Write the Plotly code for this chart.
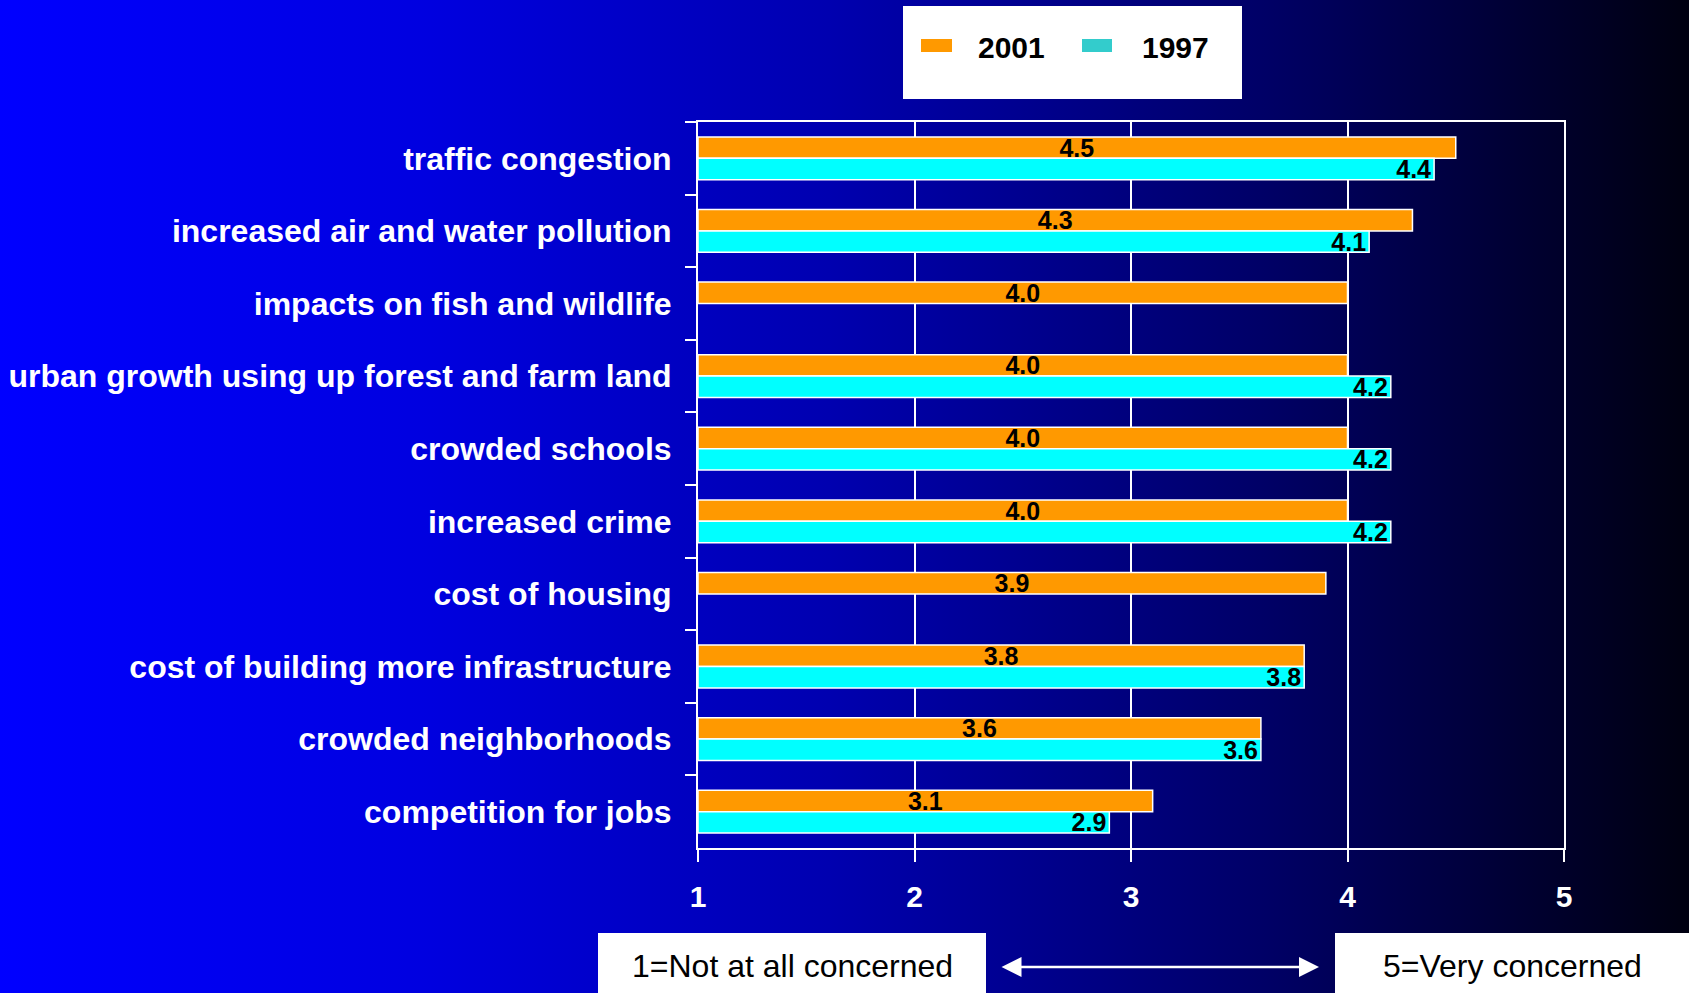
import base64
import plotly.graph_objects as go

# Survey: level of concern about growth-related issues (1-5 scale)
categories = [
    "traffic congestion",
    "increased air and water pollution",
    "impacts on fish and wildlife",
    "urban growth using up forest and farm land",
    "crowded schools",
    "increased crime",
    "cost of housing",
    "cost of building more infrastructure",
    "crowded neighborhoods",
    "competition for jobs",
]
scores_2001 = [4.5, 4.3, 4.0, 4.0, 4.0, 4.0, 3.9, 3.8, 3.6, 3.1]
scores_1997 = [4.4, 4.1, None, 4.2, 4.2, 4.2, None, 3.8, 3.6, 2.9]
x_ticks = [1, 2, 3, 4, 5]
scale_min, scale_max = 1, 5

W, H = 1689, 993
ML, MR, MT, MB = 698, 125, 122, 145
PW, PH = W - ML - MR, H - MT - MB


def px_x(p):
    return (p - ML) / PW


def px_y(p):
    return 1 - (p - MT) / PH


def lengths(vals):
    return [None if v is None else v - scale_min for v in vals]


def labels(vals):
    return ["" if v is None else f"{v:.1f}" for v in vals]


label_font = dict(family="Liberation Sans, Arial, sans-serif", size=25,
                  color="black", weight="bold")

fig = go.Figure()
fig.add_trace(go.Bar(
    name="2001", y=categories, x=lengths(scores_2001), base=scale_min,
    orientation="h", marker=dict(color="#FF9900", line=dict(color="white", width=1.5)),
    text=labels(scores_2001), textposition="inside", insidetextanchor="middle",
    textfont=label_font, constraintext="none", textangle=0,
))
fig.add_trace(go.Bar(
    name="1997", y=categories, x=lengths(scores_1997), base=scale_min,
    orientation="h", marker=dict(color="#00FFFF", line=dict(color="white", width=1.5)),
    text=labels(scores_1997), textposition="inside", insidetextanchor="end",
    textfont=label_font, constraintext="none", textangle=0,
))

# Horizontal blue-to-black background
svg = (
    '<svg xmlns="http://www.w3.org/2000/svg" width="1689" height="993">'
    '<defs><linearGradient id="g" x1="0" y1="0" x2="1" y2="0">'
    '<stop offset="0" stop-color="#0000FF"/>'
    '<stop offset="0.25" stop-color="#0000E0"/>'
    '<stop offset="0.49" stop-color="#0000B0"/>'
    '<stop offset="0.75" stop-color="#000066"/>'
    '<stop offset="1" stop-color="#000010"/>'
    '</linearGradient></defs>'
    '<rect width="1689" height="993" fill="url(#g)"/></svg>'
)
bg_src = "data:image/svg+xml;base64," + base64.b64encode(svg.encode()).decode()

shapes = [
    # legend box and swatches
    dict(type="rect", xref="paper", yref="paper", x0=px_x(903), x1=px_x(1242),
         y0=px_y(99), y1=px_y(6), fillcolor="white", line=dict(width=0)),
    dict(type="rect", xref="paper", yref="paper", x0=px_x(921), x1=px_x(952),
         y0=px_y(52), y1=px_y(39), fillcolor="#FF9900", line=dict(width=0)),
    dict(type="rect", xref="paper", yref="paper", x0=px_x(1082), x1=px_x(1112),
         y0=px_y(52), y1=px_y(39), fillcolor="#33CCCC", line=dict(width=0)),
    # scale explanation boxes
    dict(type="rect", xref="paper", yref="paper", x0=px_x(598), x1=px_x(986),
         y0=px_y(995), y1=px_y(933), fillcolor="white", line=dict(width=0)),
    dict(type="rect", xref="paper", yref="paper", x0=px_x(1335), x1=px_x(1692),
         y0=px_y(995), y1=px_y(933), fillcolor="white", line=dict(width=0)),
]

legend_font = dict(family="Liberation Sans, Arial", size=30, color="black")
note_font = dict(family="Liberation Sans, Arial", size=32, color="black")

annotations = [
    dict(text="<b>2001</b>", xref="paper", yref="paper", x=px_x(976), y=px_y(48),
         xanchor="left", yanchor="middle", showarrow=False, font=legend_font),
    dict(text="<b>1997</b>", xref="paper", yref="paper", x=px_x(1140), y=px_y(48),
         xanchor="left", yanchor="middle", showarrow=False, font=legend_font),
    dict(text="1=Not at all concerned", xref="paper", yref="paper", x=px_x(792), y=px_y(966),
         xanchor="center", yanchor="middle", showarrow=False, font=note_font),
    dict(text="5=Very concerned", xref="paper", yref="paper", x=px_x(1512), y=px_y(966),
         xanchor="center", yanchor="middle", showarrow=False, font=note_font),
    dict(text="", xref="paper", yref="paper", x=px_x(1319), y=px_y(967),
         ax=-319, ay=0, axref="pixel", ayref="pixel", showarrow=True,
         arrowside="end+start", arrowhead=2, arrowsize=1.6, arrowwidth=2.5,
         arrowcolor="white"),
]

fig.update_layout(
    width=W, height=H,
    margin=dict(l=ML, r=MR, t=MT, b=MB, pad=0, autoexpand=False),
    paper_bgcolor="rgba(0,0,0,0)", plot_bgcolor="rgba(0,0,0,0)",
    barmode="group", bargap=0.41, bargroupgap=0,
    showlegend=False,
    images=[dict(source=bg_src, xref="paper", yref="paper",
                 x=-ML / PW, y=1 + MT / PH, sizex=W / PW, sizey=H / PH,
                 xanchor="left", yanchor="top", sizing="stretch", layer="below")],
    shapes=shapes, annotations=annotations,
    xaxis=dict(
        range=[scale_min, scale_max], tickvals=x_ticks, ticktext=[str(t) for t in x_ticks],
        showgrid=True, gridcolor="white", gridwidth=2, automargin=False,
        showline=True, linecolor="white", linewidth=2, mirror=True,
        ticks="outside", ticklen=12, tickcolor="white", tickwidth=2,
        ticklabelstandoff=9, zeroline=False,
        tickfont=dict(family="Liberation Sans, Arial", size=30, color="white", weight="bold"),
    ),
    yaxis=dict(
        autorange="reversed", showgrid=False, automargin=False,
        showline=True, linecolor="white", linewidth=2, mirror=True,
        ticks="outside", tickson="boundaries", ticklen=11, tickcolor="white", tickwidth=2,
        ticklabelstandoff=18,
        tickfont=dict(family="Liberation Sans, Arial", size=32, color="white", weight="bold"),
    ),
)

fig.write_html("out.html")
